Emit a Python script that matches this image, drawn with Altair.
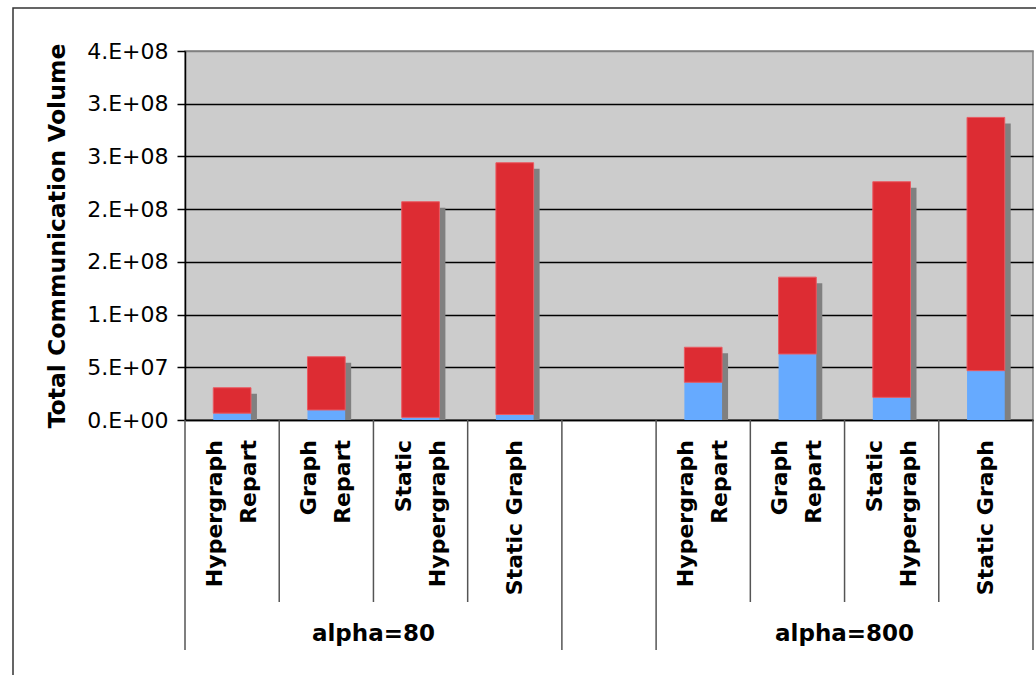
import altair as alt
import pandas as pd

# ---- chart values -------------------------------------------------------
groups = ["alpha=80", "alpha=800"]
methods = ["Hypergraph\nRepart", "Graph\nRepart", "Static\nHypergraph", "Static Graph"]

# lower (blue) and upper (red) segment of every stacked bar, in method order
lower_80 = [6.5e6, 9.5e6, 2.5e6, 5.2e6]
upper_80 = [2.41e7, 5.05e7, 2.045e8, 2.388e8]
lower_800 = [3.58e7, 6.26e7, 2.15e7, 4.68e7]
upper_800 = [3.32e7, 7.29e7, 2.045e8, 2.402e8]

y_ticks = [0, 5e7, 1e8, 1.5e8, 2e8, 2.5e8, 3e8, 3.5e8]
y_tick_labels = ["0.E+00", "5.E+07", "1.E+08", "2.E+08", "2.E+08", "3.E+08", "3.E+08", "4.E+08"]

# ---- tables --------------------------------------------------------------
slots_per_group = len(methods) + 1  # one empty slot between the two groups
n_slots = len(groups) * slots_per_group - 1

rows = []
for gi, (g, lows, ups) in enumerate(zip(groups, [lower_80, lower_800], [upper_80, upper_800])):
    for mi, (m, lo, up) in enumerate(zip(methods, lows, ups)):
        rows.append({"group": g, "method": m, "lines": m.count("\n") + 1,
                     "slot": gi * slots_per_group + mi, "lower": lo, "upper": up})
bars = pd.DataFrame(rows)

inner_edges = pd.DataFrame({"edge": [gi * slots_per_group + k
                                     for gi in range(len(groups))
                                     for k in range(1, len(methods))]})
group_edges = pd.DataFrame({"edge": sorted({gi * slots_per_group + k
                                            for gi in range(len(groups))
                                            for k in (0, len(methods))})})
group_titles = pd.DataFrame({"group": groups,
                             "center": [gi * slots_per_group + len(methods) / 2
                                        for gi in range(len(groups))]})

# ---- layout ---------------------------------------------------------------
W, H = 848, 369
FONT = "DejaVu Sans"
LABEL_SIZE = 22
LINE_H = 34

label_expr = " : ".join(f"datum.value == {v} ? '{t}'" for v, t in zip(y_ticks, y_tick_labels)) + " : ''"

x_scale = alt.Scale(domain=[0, n_slots], nice=False, zero=False)
y_scale = alt.Scale(domain=[0, max(y_ticks)], nice=False)

x_enc = alt.X("left:Q", scale=x_scale,
              axis=alt.Axis(labels=False, ticks=False, grid=False, domainColor="#000000",
                            domainWidth=1.5),
              title=None)
y_axis = alt.Axis(values=y_ticks, labelExpr=label_expr, grid=True,
                  gridColor={"condition": {"test": f"datum.value >= {max(y_ticks)}", "value": "#808080"},
                             "value": "#000000"},
                  gridWidth=1.5, domainColor="#000000", domainWidth=1.5,
                  tickColor="#000000", tickWidth=1.5, tickSize=8,
                  labelFont=FONT, labelFontSize=22, labelColor="#000000", labelPadding=9,
                  title="Total Communication Volume", titleFont=FONT, titleFontSize=23.5,
                  titleFontWeight="bold", titleColor="#000000", titlePadding=17)

base = alt.Chart(bars).transform_calculate(
    left="datum.slot + 0.3", right="datum.slot + 0.7",
    total="datum.lower + datum.upper")

shadow = base.mark_bar(color="#808080", xOffset=6, x2Offset=6, yOffset=6, y2Offset=6,
                       clip=True).encode(
    x=x_enc, x2="right:Q",
    y=alt.Y("total:Q", scale=y_scale, axis=y_axis), y2=alt.datum(0))

lower_bar = base.mark_bar(color="#66AAFF").encode(
    x="left:Q", x2="right:Q", y="lower:Q", y2=alt.datum(0))

upper_bar = base.mark_bar(color="#DD2C33", stroke="#EA5A62", strokeWidth=1).encode(
    x="left:Q", x2="right:Q", y="total:Q", y2="lower:Q")

sep_inner = alt.Chart(inner_edges).mark_rule(color="#555555", strokeWidth=1.5).encode(
    x="edge:Q", y=alt.value(H), y2=alt.value(H + 182))
sep_group = alt.Chart(group_edges).mark_rule(color="#555555", strokeWidth=1.5).encode(
    x="edge:Q", y=alt.value(H), y2=alt.value(H + 230))


def method_label_layer(n_lines):
    # rotated category labels; a two-line block is shifted so it sits centred in its slot
    return base.transform_filter(f"datum.lines == {n_lines}").transform_calculate(
        center="datum.slot + 0.5").mark_text(
        angle=270, align="right", baseline="middle", font=FONT, fontWeight="bold",
        fontSize=LABEL_SIZE, lineBreak="\n", lineHeight=LINE_H, color="#000000",
        dy=-(n_lines - 1) * LINE_H / 2).encode(
        x="center:Q", y=alt.value(H + 20), text="method:N")


group_labels = alt.Chart(group_titles).mark_text(
    align="center", baseline="middle", font=FONT, fontWeight="bold", fontSize=23,
    color="#000000").encode(x="center:Q", y=alt.value(H + 214), text="group:N")

frame = alt.Chart(pd.DataFrame({"k": [0]})).mark_rect(
    filled=False, stroke="#333333", strokeWidth=1.5).encode(
    x=alt.value(-172), x2=alt.value(W + 20), y=alt.value(-43), y2=alt.value(H + 270))

chart = alt.layer(
    frame, shadow, lower_bar, upper_bar, sep_inner, sep_group,
    method_label_layer(1), method_label_layer(2), group_labels
).properties(
    width=W, height=H,
    autosize=alt.AutoSizeParams(type="none"),
    padding={"left": 185, "top": 51, "right": 3, "bottom": 255},
    background="#FFFFFF",
).configure_view(fill="#CCCCCC", stroke="#808080", strokeWidth=1.5)

chart.save("out.html", embed_options={"renderer": "svg", "actions": False})
